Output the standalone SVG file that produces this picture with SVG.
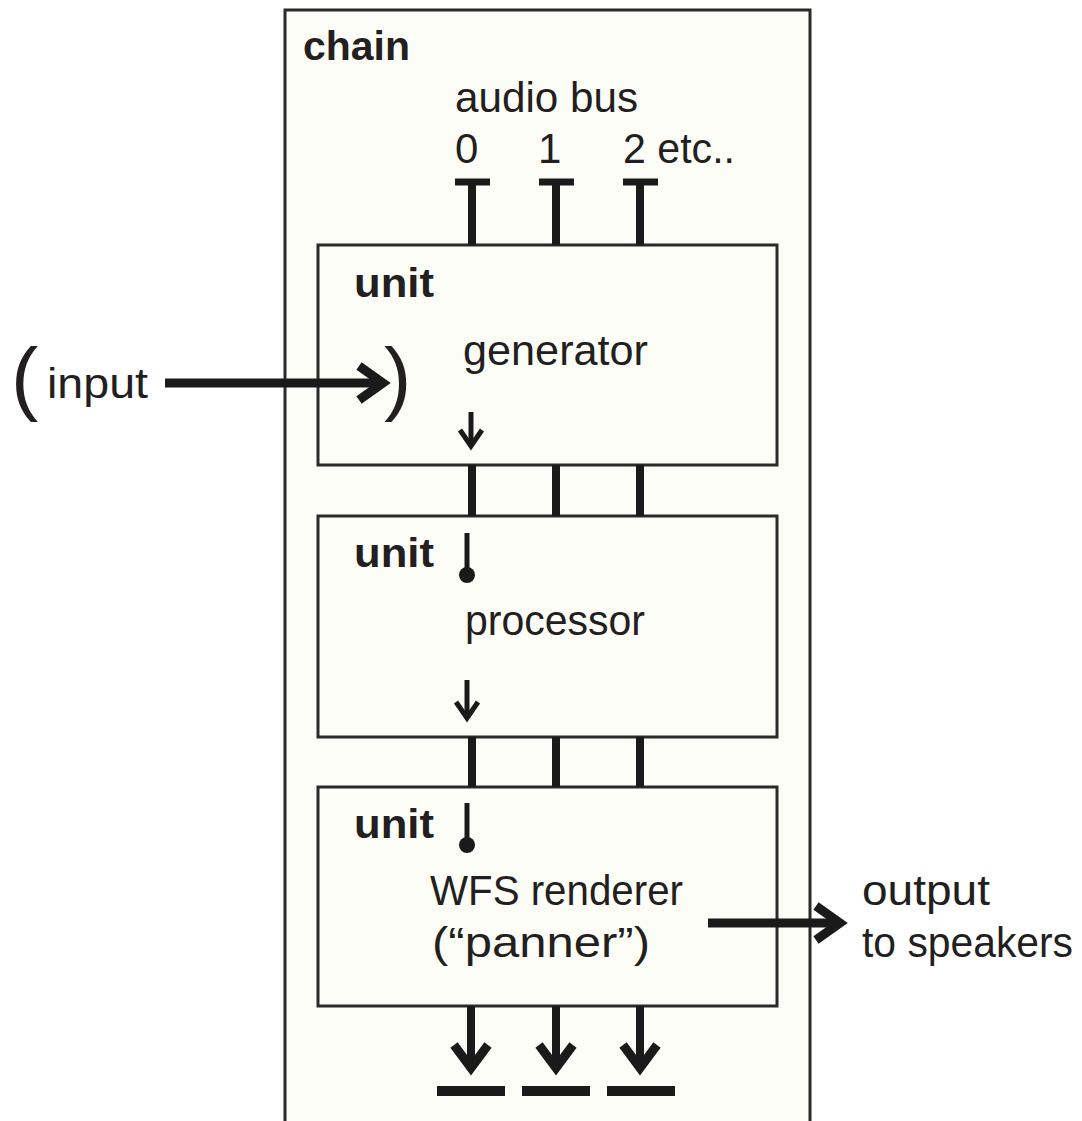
<svg xmlns="http://www.w3.org/2000/svg" width="1082" height="1121" viewBox="0 0 1082 1121">
  <style>
    .t { font-family: "Liberation Sans", Arial, sans-serif; font-size: 42px; fill: #231f20; }
    .b { font-family: "Liberation Sans", Arial, sans-serif; font-size: 40px; font-weight: bold; fill: #231f20; }
    .paren { font-family: "Liberation Sans", Arial, sans-serif; font-size: 82px; fill: #231f20; }
    .box { fill: #fdfdf7; stroke: #2a2a2a; stroke-width: 3; }
    .bus { stroke: #1a1a1a; stroke-width: 8; fill: none; }
    .thick { stroke: #1a1a1a; stroke-width: 9; fill: none; stroke-linejoin: miter; }
    .thin { stroke: #1a1a1a; stroke-width: 5; fill: none; stroke-linejoin: miter; }
  </style>
  <rect width="1082" height="1121" fill="#ffffff"/>

  <g id="chain">
    <path d="M285,1125 V10 H810 V1125" class="box" stroke-width="2.5"/>
    <text class="b" x="303" y="60" textLength="107" lengthAdjust="spacingAndGlyphs">chain</text>
    <text class="t" x="455" y="112" textLength="183" lengthAdjust="spacingAndGlyphs">audio bus</text>
    <text class="t" x="455" y="163">0</text>
    <text class="t" x="538" y="163">1</text>
    <text class="t" x="623" y="163" textLength="112" lengthAdjust="spacingAndGlyphs">2 etc..</text>
  </g>

  <g id="unit1">
    <rect class="box" x="318" y="245" width="459" height="220"/>
    <text class="b" x="354" y="297" textLength="80" lengthAdjust="spacingAndGlyphs">unit</text>
    <text class="t" x="463" y="365" textLength="185" lengthAdjust="spacingAndGlyphs">generator</text>
  </g>

  <g id="unit2">
    <rect class="box" x="318" y="516" width="459" height="221"/>
    <text class="b" x="354" y="567" textLength="80" lengthAdjust="spacingAndGlyphs">unit</text>
    <text class="t" x="465" y="635" textLength="180" lengthAdjust="spacingAndGlyphs">processor</text>
  </g>

  <g id="unit3">
    <rect class="box" x="318" y="787" width="459" height="219"/>
    <text class="b" x="354" y="838" textLength="80" lengthAdjust="spacingAndGlyphs">unit</text>
    <text class="t" x="430" y="905" textLength="253" lengthAdjust="spacingAndGlyphs">WFS renderer</text>
    <text class="t" x="432" y="957" textLength="218" lengthAdjust="spacingAndGlyphs">(“panner”)</text>
  </g>

  <g id="input">
    <text class="paren" x="11" y="405">(</text>
    <text class="t" x="47" y="398" textLength="101" lengthAdjust="spacingAndGlyphs">input</text>
    <text class="paren" x="384" y="405">)</text>
  </g>

  <g id="output">
    <text class="t" x="862" y="905" textLength="128" lengthAdjust="spacingAndGlyphs">output</text>
    <text class="t" x="862" y="957" textLength="211" lengthAdjust="spacingAndGlyphs">to speakers</text>
  </g>

  <g id="connectors">
    <path class="bus" d="M472,182 V245 M556,182 V245 M640,182 V245"/>
    <path d="M455,182 H490 M539,182 H574 M623,182 H658" stroke="#1a1a1a" stroke-width="7" fill="none"/>
    <path class="bus" d="M472,465 V516 M556,465 V516 M640,465 V516"/>
    <path class="bus" d="M472,737 V787 M556,737 V787 M640,737 V787"/>
    <path class="thick" d="M165,383 H380"/>
    <path class="thick" d="M359,366 L383,383 L359,400"/>
    <path class="thin" d="M471,412 V444"/>
    <path class="thin" d="M460,430 L471,446 L482,430"/>
    <path class="thin" d="M467,533 V572"/>
    <circle cx="467" cy="575" r="8" fill="#1a1a1a"/>
    <path class="thin" d="M467,680 V716"/>
    <path class="thin" d="M456,702 L467,718 L478,702"/>
    <path class="thin" d="M467,803 V842"/>
    <circle cx="467" cy="845" r="8" fill="#1a1a1a"/>
    <path class="thick" d="M708,923 H838"/>
    <path class="thick" d="M816,906 L840,923 L816,940"/>
    <path class="bus" d="M471,1006 V1066 M556,1006 V1066 M640,1006 V1066"/>
    <path class="thick" d="M454,1045 L471,1068 L488,1045 M539,1045 L556,1068 L573,1045 M623,1045 L640,1068 L657,1045"/>
    <rect x="437" y="1086" width="68" height="10" fill="#1a1a1a"/>
    <rect x="522" y="1086" width="68" height="10" fill="#1a1a1a"/>
    <rect x="607" y="1086" width="68" height="10" fill="#1a1a1a"/>
  </g>
</svg>
